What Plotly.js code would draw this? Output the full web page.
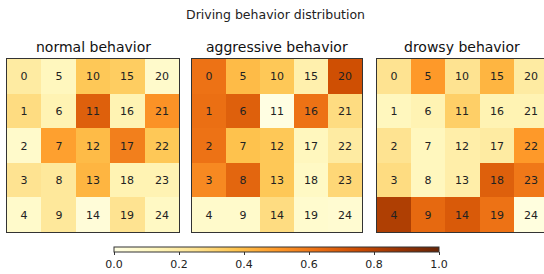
<!DOCTYPE html>
<html>
<head>
<meta charset="utf-8">
<script src="https://cdn.plot.ly/plotly-3.0.1.min.js"></script>
<style>html,body{margin:0;padding:0;background:#fff;}#chart{width:544px;height:274px;}</style>
</head>
<body>
<div id="chart"></div>
<script>
// 5x5 grids, rows top to bottom, columns left to right
var normalValues = [
  [0.20, 0.12, 0.36, 0.34, 0.08],
  [0.28, 0.15, 0.68, 0.15, 0.52],
  [0.08, 0.48, 0.40, 0.58, 0.36],
  [0.25, 0.22, 0.42, 0.15, 0.15],
  [0.08, 0.22, 0.04, 0.25, 0.10]
];
var aggressiveValues = [
  [0.62, 0.40, 0.36, 0.17, 0.74],
  [0.63, 0.68, 0.01, 0.62, 0.28],
  [0.62, 0.38, 0.36, 0.12, 0.20],
  [0.55, 0.66, 0.36, 0.10, 0.30],
  [0.08, 0.08, 0.28, 0.07, 0.06]
];
var drowsyValues = [
  [0.25, 0.50, 0.25, 0.42, 0.20],
  [0.12, 0.15, 0.33, 0.15, 0.15],
  [0.25, 0.12, 0.18, 0.20, 0.50],
  [0.28, 0.12, 0.18, 0.68, 0.60],
  [0.82, 0.65, 0.70, 0.62, 0.02]
];
var cellLabels = [
  ["0", "5", "10", "15", "20"],
  ["1", "6", "11", "16", "21"],
  ["2", "7", "12", "17", "22"],
  ["3", "8", "13", "18", "23"],
  ["4", "9", "14", "19", "24"]
];
var subplotTitles = ["normal behavior", "aggressive behavior", "drowsy behavior"];
var mainTitle = "Driving behavior distribution";
var colorTicks = [0, 0.2, 0.4, 0.6, 0.8, 1.0];

var ylorbr = [
  [0.0, '#ffffe5'], [0.125, '#fff7bc'], [0.25, '#fee391'], [0.375, '#fec44f'],
  [0.5, '#fe9929'], [0.625, '#ec7014'], [0.75, '#cc4c02'], [0.875, '#993404'], [1.0, '#662506']
];

var font = 'DejaVu Sans, sans-serif';
var grids = [normalValues, aggressiveValues, drowsyValues];
var traces = grids.map(function (z, i) {
  return {
    type: 'heatmap',
    z: z,
    x: [0, 1, 2, 3, 4],
    y: [0, 1, 2, 3, 4],
    text: cellLabels,
    texttemplate: '%{text}',
    textfont: {family: font, size: 11, color: '#222'},
    coloraxis: 'coloraxis',
    xaxis: i === 0 ? 'x' : 'x' + (i + 1),
    yaxis: i === 0 ? 'y' : 'y' + (i + 1),
    hoverinfo: 'skip'
  };
});

function xa(domain, range, mirror) {
  return {domain: domain, range: range, showticklabels: false, ticks: '', showgrid: false,
    zeroline: false, showline: true, mirror: mirror, linecolor: '#333', linewidth: 1, fixedrange: true};
}
function ya(anchor, mirror) {
  return {domain: [0, 1], range: [4.5, -0.5], showticklabels: false, ticks: '', showgrid: false,
    zeroline: false, showline: true, mirror: mirror, linecolor: '#333', linewidth: 1, anchor: anchor, fixedrange: true};
}

var W = 544;
var layout = {
  width: 544, height: 274,
  margin: {l: 0, r: 0, t: 59, b: 42, pad: 0},
  paper_bgcolor: '#fff', plot_bgcolor: '#fff',
  showlegend: false,
  font: {family: font, color: '#222'},
  xaxis: Object.assign(xa([7 / W, 179 / W], [-0.5, 4.5], true), {anchor: 'y'}),
  yaxis: ya('x', true),
  xaxis2: Object.assign(xa([192 / W, 362 / W], [-0.5, 4.5], true), {anchor: 'y2'}),
  yaxis2: ya('x2', true),
  xaxis3: Object.assign(xa([377 / W, 1], [-0.5, 4.385], true), {anchor: 'y3'}),
  yaxis3: ya('x3', false),
  coloraxis: {
    cmin: 0, cmax: 1, colorscale: ylorbr,
    colorbar: {
      orientation: 'h', lenmode: 'pixels', len: 325, thickness: 5,
      x: 276.5 / W, xanchor: 'center', y: -(247 - 232) / 173, yanchor: 'top',
      xpad: 0, ypad: 0, outlinecolor: '#333', outlinewidth: 1,
      tickvals: colorTicks, tickformat: '.1f', ticks: 'outside', ticklen: 3, tickcolor: '#333',
      tickfont: {family: font, size: 11, color: '#222'}
    }
  },
  annotations: [
    {text: mainTitle, x: 275 / W, y: (232 - 14) / 173, xref: 'paper', yref: 'paper', showarrow: false,
     xanchor: 'center', yanchor: 'middle', font: {family: font, size: 12.5, color: '#222'}}
  ].concat(subplotTitles.map(function (t, i) {
    var centers = [93, 277, 462];
    return {text: t, x: centers[i] / W, xanchor: 'center', yanchor: 'middle', xref: 'paper', yref: 'paper',
      y: (232 - 47) / 173, showarrow: false, font: {family: font, size: 14, color: '#111'}};
  }))
};

Plotly.newPlot('chart', traces, layout, {staticPlot: true, displayModeBar: false});
</script>
</body>
</html>
